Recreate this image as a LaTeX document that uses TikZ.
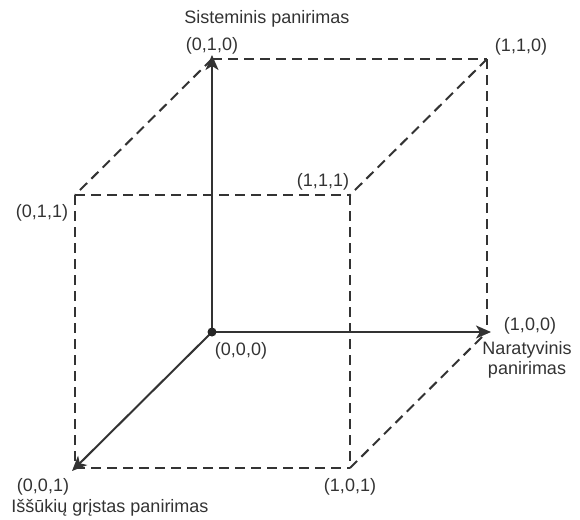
\documentclass[tikz,border=0pt]{standalone}
\usepackage{fontspec}
\setmainfont{Liberation Sans}
\usetikzlibrary{arrows.meta}
\begin{document}
\begin{tikzpicture}[x=1pt,y=-1pt,
  edge/.style={draw=black!80, line width=2pt},
  dashedge/.style={draw=black!80, line width=2pt, dash pattern=on 10pt off 6pt},
  axis/.style={edge, -{Stealth[length=15pt,width=13pt,inset=4pt]}},
  lbl/.style={font=\fontsize{18}{20}\selectfont, text=black!80, inner sep=0pt, align=center}]
\useasboundingbox (0,0) rectangle (580,519);
\coordinate (o) at (212,332);
\coordinate (y) at (212,55);
\coordinate (x) at (491,332);
\coordinate (z) at (72,471);
\coordinate (p010) at (212,59);
\coordinate (p110) at (487,59);
\coordinate (p100) at (487,332);
\coordinate (p011) at (75,195);
\coordinate (p111) at (350,195);
\coordinate (p001) at (75,468);
\coordinate (p101) at (350,468);
% dashed cube edges
\draw[dashedge] (p010) -- (p110);
\draw[dashedge] (p110) -- (p100);
\draw[dashedge] (p110) -- (p111);
\draw[dashedge] (p010) -- (p011);
\draw[dashedge] (p011) -- (p111);
\draw[dashedge] (p111) -- (p101);
\draw[dashedge] (p011) -- (p001);
\draw[dashedge] (p001) -- (p101);
\draw[dashedge] (p101) -- (p100);
% axes
\draw[axis] (o) -- (y);
\draw[axis] (o) -- (x);
\draw[axis] (o) -- (z);
\fill[black!85] (o) circle (4.5pt);
% labels
\node[lbl] (tsis) at (267,19) {Sisteminis panirimas};
\node[lbl] (t010) at (212,46) {(0,1,0)};
\node[lbl] (t110) at (521,47) {(1,1,0)};
\node[lbl] (t011) at (42,213) {(0,1,1)};
\node[lbl] (t111) at (323,182) {(1,1,1)};
\node[lbl] (t000) at (241,351) {(0,0,0)};
\node[lbl] (t100) at (530,326) {(1,0,0)};
\node[lbl] (tnar) at (527,360) {Naratyvinis\\panirimas};
\node[lbl] (t001) at (43,487) {(0,0,1)};
\node[lbl] (t101) at (350,487) {(1,0,1)};
\node[lbl] (tiss) at (110,508) {Iššūkių grįstas panirimas};
\end{tikzpicture}
\end{document}
